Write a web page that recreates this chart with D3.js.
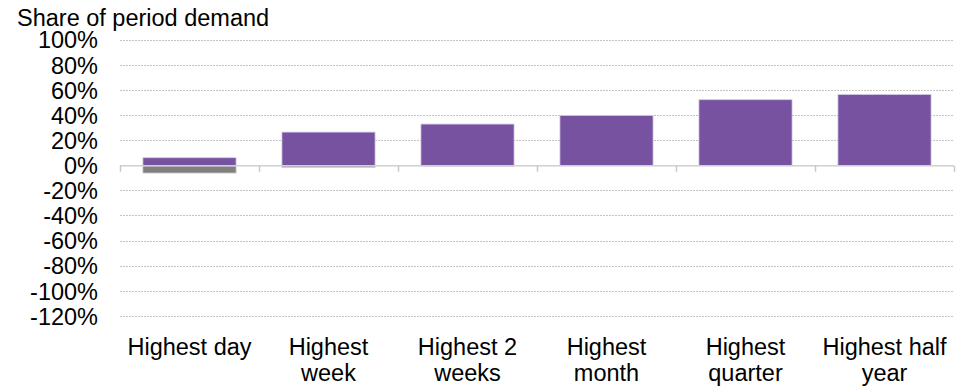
<!DOCTYPE html>
<html><head><meta charset="utf-8">
<script src="https://cdn.jsdelivr.net/npm/d3@7"></script>
<style>body{margin:0;background:#fff}svg{display:block;font-family:"Liberation Sans",Arial,sans-serif}</style>
</head><body><svg id="c" width="969" height="387"></svg>
<script>
const categories = [["Highest day"],["Highest","week"],["Highest 2","weeks"],["Highest","month"],["Highest","quarter"],["Highest half","year"]];
const purpleValues = [6.4, 26.8, 33.2, 40.1, 52.6, 56.8];
const grayValues = [-5.8, -1.2, -0.3, 0, 0, 0];
const yTicks = [100, 80, 60, 40, 20, 0, -20, -40, -60, -80, -100, -120];
const title = "Share of period demand";

const svg = d3.select("#c");
const plotLeft = 120, plotRight = 954, plotTop = 40.2, plotBottom = 316.4;
const x = d3.scaleBand().domain(d3.range(categories.length)).range([plotLeft, plotRight]).paddingInner(0.33).paddingOuter(0.165);
const y = d3.scaleLinear().domain([-120, 100]).range([plotBottom, plotTop]);
const fs = 23.5;

// gridlines
svg.append("g").selectAll("line").data(yTicks.filter(d => d !== 0)).join("line")
  .attr("x1", plotLeft).attr("x2", plotRight).attr("y1", d => Math.floor(y(d)) + 0.5).attr("y2", d => Math.floor(y(d)) + 0.5)
  .attr("stroke", "#c4c4c4").attr("stroke-width", 1).attr("stroke-dasharray", "2,1");

// y labels
svg.append("g").selectAll("text").data(yTicks).join("text")
  .attr("x", 98).attr("y", d => y(d)).attr("dy", "0.35em").attr("text-anchor", "end")
  .attr("font-size", fs).attr("fill", "#000").text(d => d + "%");

// title
svg.append("text").attr("x", 17).attr("y", 26).attr("font-size", fs).attr("fill", "#000").text(title);

// bars
const bw = x.bandwidth();
svg.append("g").selectAll("rect").data(grayValues).join("rect")
  .attr("x", (d, i) => x(i)).attr("width", bw)
  .attr("y", d => y(Math.max(0, d))).attr("height", d => Math.abs(y(d) - y(0)))
  .attr("fill", "#808080").attr("stroke", "#c8c8c8").attr("stroke-width", 0.8);
svg.append("g").selectAll("rect").data(purpleValues).join("rect")
  .attr("x", (d, i) => x(i)).attr("width", bw)
  .attr("y", d => y(Math.max(0, d))).attr("height", d => Math.abs(y(d) - y(0)))
  .attr("fill", "#7652A1").attr("stroke", "#d6cbe6").attr("stroke-width", 0.8);

// zero axis and ticks
const y0 = y(0);
svg.append("line").attr("x1", plotLeft).attr("x2", plotRight).attr("y1", y0).attr("y2", y0)
  .attr("stroke", "#d0d0d0").attr("stroke-width", 1.5);
const boundaries = d3.range(categories.length + 1).map(i => plotLeft + i * (plotRight - plotLeft) / categories.length);
svg.append("g").selectAll("line").data(boundaries).join("line")
  .attr("x1", d => Math.round(d) + 0.5).attr("x2", d => Math.round(d) + 0.5).attr("y1", y0).attr("y2", y0 + 6)
  .attr("stroke", "#c8c8c8").attr("stroke-width", 1.5);

// category labels
const lab = svg.append("g").selectAll("text").data(categories).join("text")
  .attr("text-anchor", "middle").attr("font-size", fs).attr("fill", "#000")
  .attr("transform", (d, i) => `translate(${x(i) + bw / 2},355)`);
lab.selectAll("tspan").data(d => d).join("tspan").attr("x", 0).attr("y", (d, j) => j * 26).text(d => d);
</script></body></html>
